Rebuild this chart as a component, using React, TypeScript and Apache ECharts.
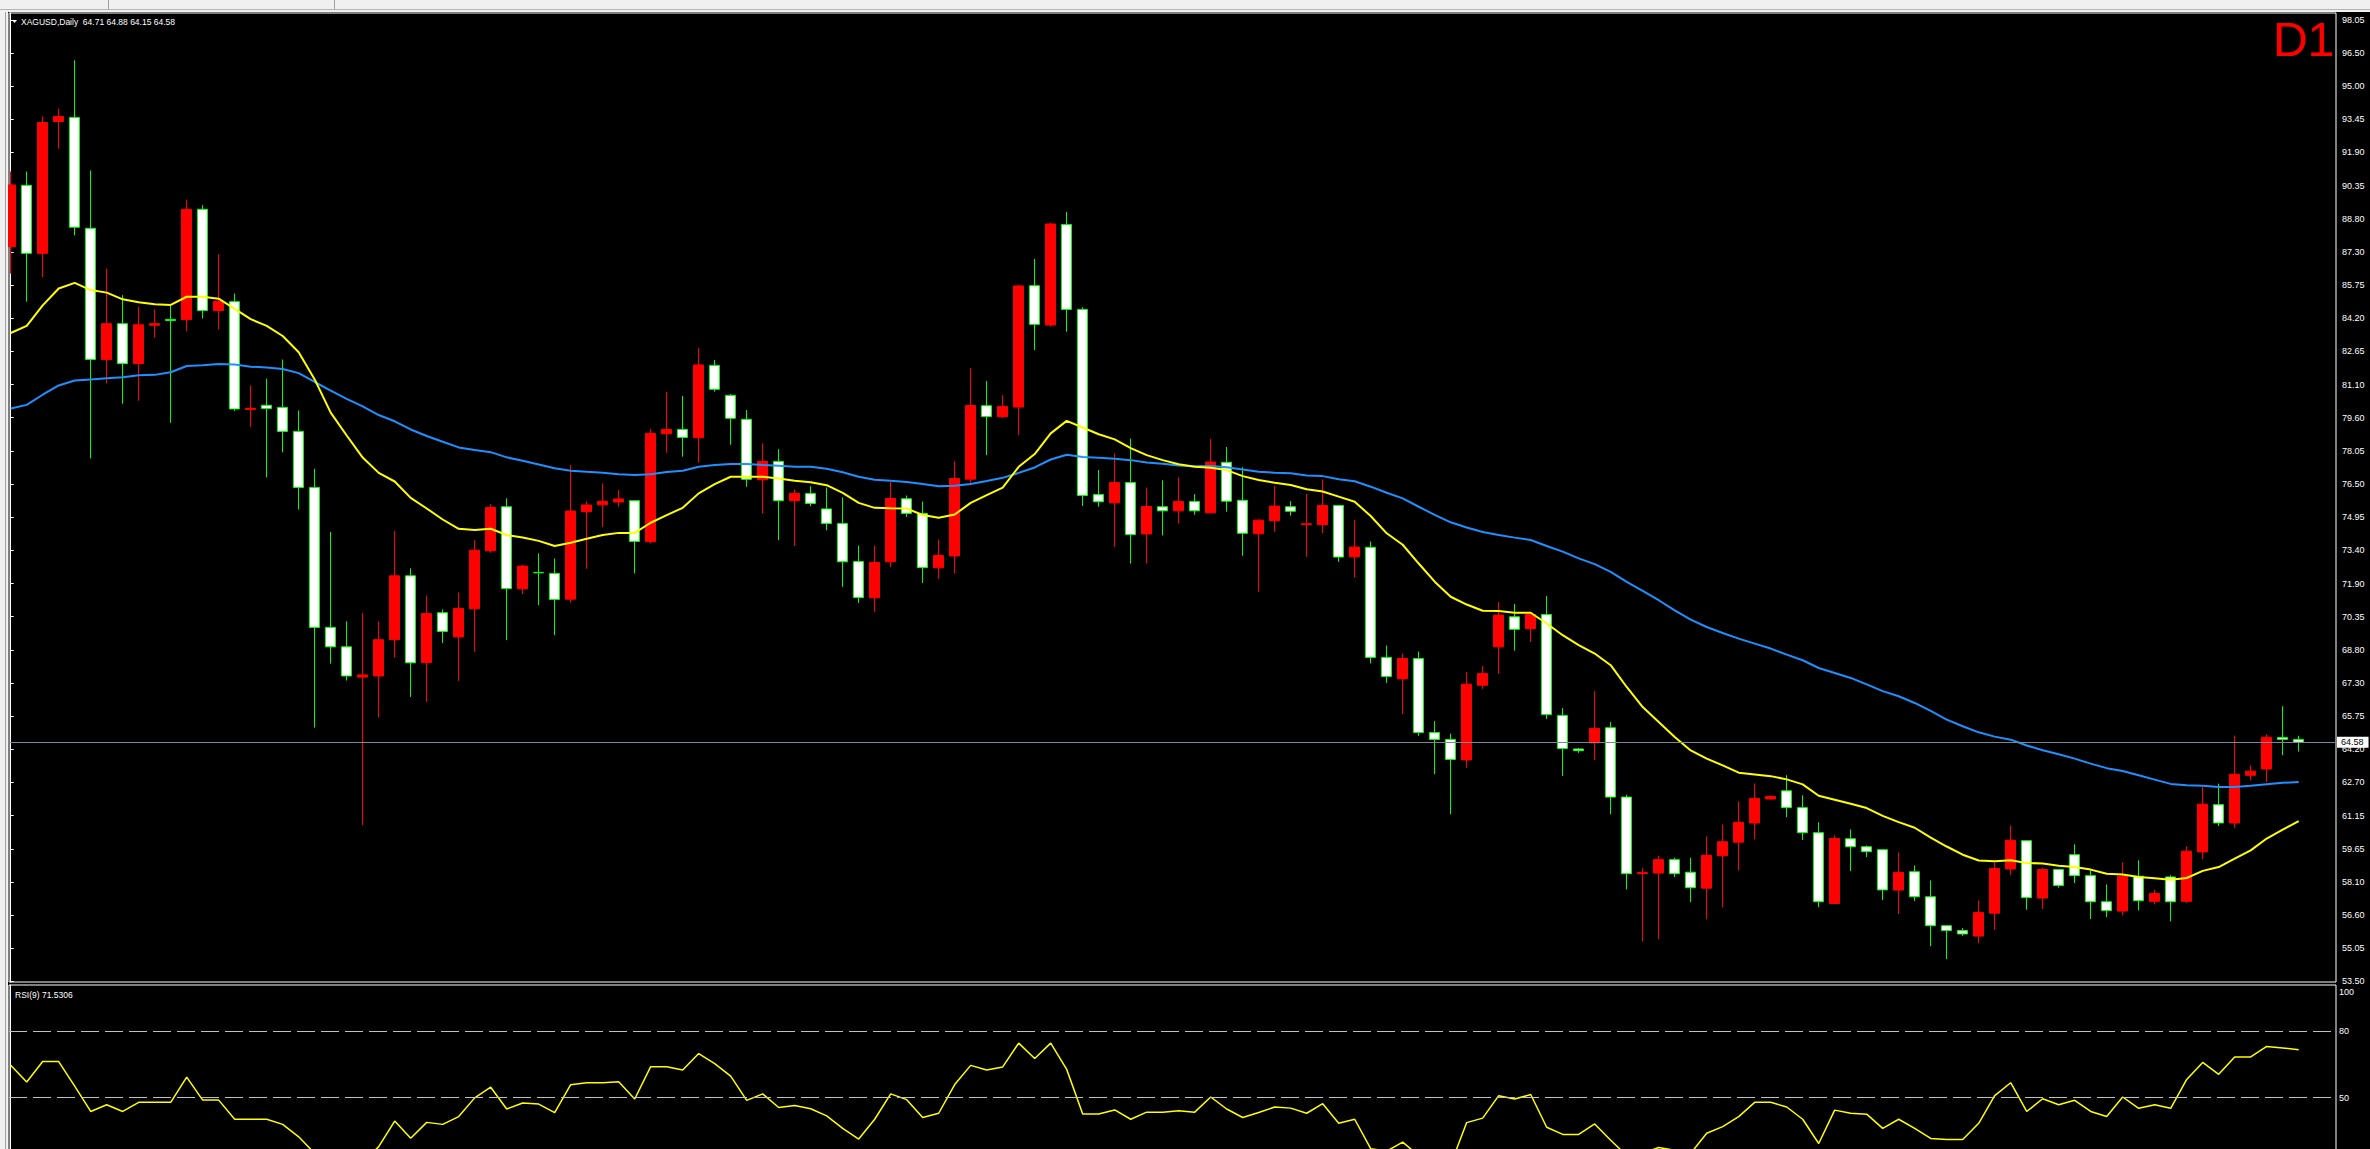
import React, { useEffect, useRef } from "react";
import * as echarts from "echarts";

const symbolName = "XAGUSD,Daily";
const timeframe = "D1";
const rsiLabel = "RSI(9) 71.5306";
const lastPrice = 64.58;

const opens = [
  87.54, 90.38, 87.23, 93.34, 93.52, 88.39, 82.31, 83.97, 82.12, 83.9,
  84.17, 84.16, 89.27, 84.58, 84.99, 80.0, 80.19, 80.09, 78.98, 76.38,
  69.9, 69.0, 67.6, 67.65, 69.33, 72.29, 68.27, 70.58, 69.46, 70.76,
  73.45, 75.49, 71.69, 72.45, 72.4, 71.21, 75.26, 75.58, 75.71, 75.77,
  73.87, 78.87, 79.07, 78.69, 82.04, 80.65, 79.54, 76.74, 77.59, 75.77,
  76.1, 75.39, 74.71, 72.95, 71.27, 72.94, 75.86, 75.18, 72.66, 73.21,
  76.77, 80.17, 79.66, 80.11, 85.73, 83.91, 88.57, 84.63, 76.06, 75.67,
  76.61, 74.23, 75.49, 75.3, 75.73, 75.21, 77.55, 75.79, 74.24, 74.84,
  75.49, 74.66, 74.66, 75.55, 73.17, 73.61, 68.51, 67.52, 68.46, 65.03,
  64.71, 63.76, 67.22, 69.0, 70.39, 69.84, 70.5, 65.82, 64.27, 64.55,
  65.25, 62.04, 58.49, 58.52, 59.14, 58.56, 57.82, 59.32, 59.95, 60.84,
  61.95, 62.33, 61.55, 60.39, 57.11, 60.11, 59.74, 59.6, 57.73, 58.58,
  57.42, 56.08, 55.86, 55.6, 56.66, 58.71, 60.02, 57.36, 58.68, 59.37,
  58.4, 57.19, 56.76, 58.37, 57.21, 58.34, 57.21, 59.5, 61.69, 60.84,
  63.05, 63.34, 64.8, 64.71,
];
const highs = [
  91.02, 91.02, 93.57, 93.93, 96.17, 91.07, 86.52, 85.29, 84.75, 84.63,
  84.82, 89.72, 89.46, 87.19, 85.37, 81.11, 81.42, 82.31, 79.95, 77.25,
  74.32, 70.18, 70.56, 70.18, 74.37, 72.64, 71.38, 70.73, 71.52, 73.94,
  75.61, 75.88, 72.79, 73.33, 73.09, 77.42, 75.75, 76.57, 76.26, 75.8,
  79.09, 80.81, 80.62, 82.85, 82.29, 80.71, 79.97, 78.43, 78.16, 76.29,
  76.44, 76.38, 75.92, 73.69, 73.69, 76.64, 76.01, 75.73, 73.97, 77.6,
  81.91, 81.31, 80.66, 85.76, 86.97, 88.65, 89.15, 84.73, 77.19, 77.96,
  78.65, 76.38, 76.72, 76.85, 76.07, 78.63, 78.26, 77.32, 74.9, 76.45,
  75.75, 76.08, 76.76, 75.58, 74.87, 73.88, 69.06, 68.69, 68.78, 65.56,
  64.98, 67.83, 68.11, 71.07, 70.98, 70.62, 71.35, 66.16, 64.3, 66.95,
  65.52, 62.15, 58.76, 59.32, 59.23, 59.23, 60.22, 60.77, 61.84, 62.67,
  62.12, 63.05, 62.12, 60.87, 60.26, 60.54, 59.8, 59.62, 59.48, 58.87,
  58.18, 56.1, 55.97, 57.25, 59.01, 60.72, 60.04, 58.77, 58.7, 59.85,
  58.65, 57.99, 59.02, 59.11, 57.75, 58.42, 59.76, 62.54, 62.66, 64.89,
  63.5, 64.95, 66.25, 64.88,
];
const lows = [
  86.29, 84.99, 86.12, 92.08, 88.06, 77.73, 81.2, 80.26, 80.4, 83.33,
  79.38, 83.62, 84.21, 83.71, 79.93, 79.19, 76.85, 78.01, 75.36, 65.26,
  68.22, 67.44, 60.74, 65.73, 68.5, 66.68, 66.45, 69.18, 67.42, 68.77,
  73.36, 69.31, 71.44, 70.93, 69.54, 71.04, 72.62, 74.56, 75.49, 72.4,
  73.79, 77.99, 77.81, 77.53, 80.82, 78.36, 76.42, 75.17, 73.94, 73.67,
  75.52, 74.4, 71.78, 71.03, 70.62, 72.7, 75.02, 71.96, 72.15, 72.39,
  76.49, 77.88, 79.6, 78.81, 82.75, 83.83, 83.6, 75.53, 75.49, 73.63,
  72.86, 72.86, 74.16, 74.71, 75.12, 75.18, 75.26, 73.22, 71.55, 74.33,
  75.08, 73.17, 74.26, 72.94, 72.2, 68.23, 67.33, 65.89, 64.88, 63.1,
  61.24, 63.39, 67.05, 67.75, 68.82, 69.23, 65.66, 63.02, 64.09, 63.75,
  61.24, 57.76, 55.35, 55.46, 58.33, 57.17, 56.38, 56.93, 58.64, 60.08,
  61.93, 61.11, 60.05, 56.94, 57.08, 58.61, 59.26, 57.27, 56.62, 57.22,
  55.13, 54.53, 55.61, 55.27, 55.89, 58.43, 56.82, 56.85, 57.84, 58.06,
  56.39, 56.48, 56.56, 56.79, 57.07, 56.28, 57.13, 59.16, 60.7, 60.61,
  62.82, 62.73, 63.98, 64.15,
];
const closes = [
  90.4, 87.23, 93.29, 93.57, 88.44, 82.31, 83.97, 82.12, 83.92, 83.97,
  84.12, 89.27, 84.58, 85.01, 80.02, 80.05, 80.04, 78.98, 76.38, 69.9,
  69.0, 67.65, 67.7, 69.33, 72.29, 68.26, 70.54, 69.71, 70.78, 73.48,
  75.46, 71.7, 72.74, 72.43, 71.19, 75.29, 75.57, 75.74, 75.85, 73.88,
  78.89, 79.07, 78.7, 82.06, 80.93, 79.59, 76.76, 77.59, 75.77, 76.11,
  75.64, 74.71, 72.94, 71.28, 72.91, 75.87, 75.18, 72.67, 73.23, 76.8,
  80.18, 79.67, 80.14, 85.72, 83.94, 88.59, 84.63, 76.01, 75.72, 76.61,
  74.2, 75.5, 75.3, 75.73, 75.3, 77.56, 75.75, 74.26, 74.87, 75.52,
  75.28, 74.7, 75.55, 73.16, 73.62, 68.51, 67.63, 68.46, 65.03, 64.71,
  63.78, 67.27, 67.76, 70.47, 69.81, 70.5, 65.86, 64.29, 64.19, 65.22,
  62.04, 58.49, 58.54, 59.14, 58.49, 57.84, 59.34, 59.97, 60.87, 61.98,
  62.07, 61.55, 60.39, 57.19, 60.12, 59.74, 59.51, 57.74, 58.55, 57.42,
  56.08, 55.86, 55.7, 56.69, 58.73, 60.04, 57.38, 58.68, 57.94, 58.4,
  57.19, 56.78, 58.37, 57.24, 57.57, 57.19, 59.53, 61.71, 60.84, 63.1,
  63.24, 64.81, 64.71, 64.58,
];
const maFast = [
  83.54, 83.87, 84.82, 85.6, 85.86, 85.53, 85.41, 85.1, 84.96, 84.87,
  84.84, 85.22, 85.22, 85.13, 84.66, 84.18, 83.87, 83.4, 82.65, 81.39,
  79.85, 78.79, 77.77, 77.06, 76.66, 75.9, 75.41, 74.9, 74.47, 74.41,
  74.47, 74.18, 74.07, 73.91, 73.67, 73.82, 74.01, 74.18, 74.28, 74.28,
  74.75, 75.1, 75.44, 76.11, 76.54, 76.88, 76.88, 76.88, 76.8, 76.69,
  76.63, 76.49, 76.13, 75.67, 75.44, 75.42, 75.41, 75.11, 74.98, 75.13,
  75.67, 76.03, 76.38, 77.34, 77.93, 78.89, 79.47, 79.16, 78.85, 78.61,
  78.21, 77.88, 77.65, 77.46, 77.34, 77.3, 77.19, 76.91, 76.73, 76.6,
  76.5, 76.3, 76.2, 75.96, 75.72, 75.06, 74.26, 73.73, 72.86, 72.02,
  71.32, 70.96, 70.67, 70.66, 70.58, 70.58, 70.08, 69.54, 69.08, 68.69,
  68.15, 67.14, 66.21, 65.52, 64.82, 64.2, 63.82, 63.51, 63.17, 63.09,
  63.01, 62.86, 62.63, 62.1, 61.92, 61.73, 61.53, 61.17, 60.88, 60.62,
  60.16, 59.75, 59.37, 59.1, 59.07, 59.11, 58.99, 58.96, 58.86, 58.8,
  58.68, 58.49, 58.45, 58.34, 58.28, 58.21, 58.29, 58.62, 58.8, 59.19,
  59.57, 60.12, 60.53, 60.93,
];
const maSlow = [
  80.04, 80.21, 80.68, 81.11, 81.34, 81.39, 81.44, 81.49, 81.58, 81.6,
  81.72, 82.01, 82.05, 82.1, 82.08, 81.98, 81.94, 81.87, 81.68, 81.27,
  80.87, 80.49, 80.14, 79.74, 79.45, 79.07, 78.77, 78.5, 78.24, 78.12,
  78.02, 77.78, 77.62, 77.45, 77.27, 77.16, 77.11, 77.07, 77.0, 76.96,
  77.0, 77.1, 77.16, 77.34, 77.42, 77.47, 77.47, 77.42, 77.39, 77.34,
  77.34, 77.25, 77.09, 76.88, 76.74, 76.69, 76.64, 76.54, 76.44, 76.46,
  76.54, 76.68, 76.83, 77.06, 77.31, 77.68, 77.9, 77.8, 77.76, 77.71,
  77.65, 77.54, 77.48, 77.4, 77.37, 77.38, 77.32, 77.22, 77.11, 77.07,
  77.04, 76.94, 76.91, 76.76, 76.67, 76.42, 76.14, 75.88, 75.49, 75.11,
  74.77, 74.53, 74.32, 74.18, 74.06, 73.95, 73.67, 73.41, 73.1, 72.83,
  72.47, 72.01, 71.59, 71.16, 70.69, 70.26, 69.92, 69.64, 69.38, 69.15,
  68.92, 68.64, 68.38, 68.02, 67.79, 67.56, 67.26, 66.95, 66.71, 66.4,
  66.03, 65.63, 65.32, 65.04, 64.84, 64.7, 64.43, 64.21, 64.02, 63.82,
  63.59, 63.38, 63.25, 63.05, 62.85, 62.65, 62.59, 62.57, 62.51, 62.51,
  62.56, 62.63, 62.7, 62.74,
];
const rsi = [
  64.6, 57.0, 66.2, 66.2, 55.2, 43.8, 46.8, 43.8, 47.9, 47.9,
  47.9, 59.2, 48.9, 48.9, 40.3, 40.3, 40.3, 38.0, 32.4, 25.0,
  22.0, 19.0, 21.0, 28.0, 39.5, 31.8, 38.9, 38.0, 41.5, 49.9,
  54.7, 44.9, 47.6, 47.1, 43.3, 55.8, 56.7, 56.7, 57.1, 49.4,
  63.9, 63.9, 62.4, 69.8, 65.3, 59.7, 48.8, 51.7, 45.6, 46.5,
  45.0, 41.8, 36.2, 31.4, 40.3, 51.7, 49.1, 41.1, 43.0, 55.9,
  64.5, 62.4, 63.8, 74.5, 67.6, 74.5, 62.7, 42.7, 42.7, 44.5,
  40.3, 43.5, 43.5, 44.1, 43.5, 50.3, 44.9, 41.1, 43.3, 45.8,
  45.3, 43.0, 47.3, 38.5, 40.3, 27.1, 26.0, 30.0, 24.0, 21.0,
  20.0, 38.8, 40.8, 50.9, 49.4, 51.4, 36.7, 33.5, 33.5, 38.2,
  30.9, 24.0, 25.0, 27.6, 26.4, 25.0, 34.0, 37.0, 41.5, 47.9,
  47.9, 45.8, 40.3, 29.4, 44.4, 43.0, 42.6, 36.2, 40.3, 36.2,
  31.7, 31.2, 31.2, 38.5, 50.9, 56.7, 43.8, 49.5, 46.8, 48.8,
  43.8, 41.5, 50.3, 45.2, 46.8, 45.2, 58.2, 65.8, 60.5, 68.3,
  68.3, 73.0, 72.3, 71.5,
];
const priceTickLabels = [
  "53.50", "55.05", "56.60", "58.10", "59.65", "61.15", "62.70", "64.20",
  "65.75", "67.30", "68.80", "70.35", "71.90", "73.40", "74.95", "76.50",
  "78.05", "79.60", "81.10", "82.65", "84.20", "85.75", "87.30", "88.80",
  "90.35", "91.90", "93.45", "95.00", "96.50", "98.05",
];
const rsiTickValues = [50, 80, 100];
const rsiLevels = [80, 50];

const W = 2370;
const H = 1149;
const FONT = "'Liberation Sans', Arial, sans-serif";

export default function App() {
  const ref = useRef<HTMLDivElement>(null);

  useEffect(() => {
    document.body.style.margin = "0";
    document.body.style.background = "#000";
    const chart = echarts.init(ref.current!, null, { renderer: "svg" });

    // layout geometry (pixels)
    const plotLeft = 9;
    const plotRight = 2336;
    const mainTop = 13;
    const mainBottom = 982;
    const rsiTop = 985;
    const barStep = 16;
    const firstBarX = 10.7;
    const topLabelY = 19.8;
    const pxPerPrice = 21.585;
    const rsiPxPerUnit = 2.2;
    const rsi100Y = 986.3;

    const xMin = (plotLeft - firstBarX) / barStep;
    const xMax = (plotRight - firstBarX) / barStep;

    const lo = Number(priceTickLabels[0]);
    const hi = Number(priceTickLabels[priceTickLabels.length - 1]);
    const step = (hi - lo) / (priceTickLabels.length - 1);
    const tickValues = priceTickLabels.map((_, k) => lo + k * step);
    const yMax = hi + (topLabelY - mainTop) / pxPerPrice;
    const yMin = hi - (mainBottom - topLabelY) / pxPerPrice;

    const rsiMax = 100 + (rsi100Y - rsiTop) / rsiPxPerUnit;
    const rsiMin = rsiMax - (H - rsiTop) / rsiPxPerUnit;

    const candleData = opens.map((o, i) => [i, o, closes[i], lows[i], highs[i]]);
    const fastData = maFast.map((v, i) => [i, v]);
    const slowData = maSlow.map((v, i) => [i, v]);
    const rsiData = rsi.map((v, i) => [i, v]);

    const n = closes.length - 1;
    const header = `${symbolName}  ${opens[n].toFixed(2)} ${highs[n].toFixed(2)} ${lows[n].toFixed(2)} ${closes[n].toFixed(2)}`;

    const option: any = {
      animation: false,
      backgroundColor: "#000000",
      textStyle: { fontFamily: FONT },
      grid: [
        {
          left: plotLeft,
          top: mainTop,
          width: plotRight - plotLeft,
          height: mainBottom - mainTop,
          show: true,
          borderColor: "#ffffff",
          borderWidth: 1,
          backgroundColor: "transparent",
          containLabel: false,
          outerBoundsMode: "none",
        },
        {
          left: plotLeft,
          top: rsiTop,
          width: plotRight - plotLeft,
          height: H - rsiTop + 2,
          show: true,
          borderColor: "#ffffff",
          borderWidth: 1,
          backgroundColor: "transparent",
          containLabel: false,
          outerBoundsMode: "none",
        },
      ],
      xAxis: [
        { type: "value", gridIndex: 0, min: xMin, max: xMax, show: false },
        { type: "value", gridIndex: 1, min: xMin, max: xMax, show: false },
      ],
      yAxis: [
        {
          type: "value",
          gridIndex: 0,
          position: "right",
          min: yMin,
          max: yMax,
          splitLine: { show: false },
          axisLine: { show: true, lineStyle: { color: "#ffffff", width: 1 } },
          axisTick: {
            show: true,
            inside: false,
            length: 3,
            customValues: tickValues,
            lineStyle: { color: "#ffffff" },
          },
          axisLabel: {
            show: true,
            customValues: tickValues,
            color: "#ffffff",
            fontSize: 9,
            fontFamily: FONT,
            margin: 6,
            formatter: (v: number) => {
              const k = Math.round((v - lo) / step);
              return priceTickLabels[k] ?? "";
            },
          },
        },
        {
          type: "value",
          gridIndex: 1,
          position: "right",
          min: rsiMin,
          max: rsiMax,
          splitLine: { show: false },
          axisLine: { show: true, lineStyle: { color: "#ffffff", width: 1 } },
          axisTick: { show: false },
          axisLabel: {
            show: true,
            customValues: rsiTickValues,
            color: "#ffffff",
            fontSize: 9,
            fontFamily: FONT,
            margin: 3,
            formatter: (v: number) => (v === 100 ? "{t|100}" : String(v)),
            rich: { t: { padding: [12, 0, 0, 0], fontSize: 9, color: "#ffffff" } },
          },
        },
      ],
      series: [
        {
          type: "candlestick",
          xAxisIndex: 0,
          yAxisIndex: 0,
          data: candleData,
          barWidth: 10,
          clip: true,
          itemStyle: {
            color: "#ff0000",
            borderColor: "#ff0000",
            color0: "#ffffff",
            borderColor0: "#00ff00",
            borderWidth: 1,
          },
          markLine: {
            silent: true,
            symbol: ["none", "none"],
            animation: false,
            data: [{ yAxis: lastPrice }],
            lineStyle: { color: "#778899", width: 1, type: "solid" },
            label: {
              show: true,
              position: "end",
              distance: 1,
              formatter: lastPrice.toFixed(2),
              color: "#000000",
              backgroundColor: "#ffffff",
              fontSize: 9,
              lineHeight: 9,
              fontFamily: FONT,
              padding: [1, 5, 1, 4],
            },
            emphasis: { disabled: true },
          },
        },
        {
          type: "line",
          xAxisIndex: 0,
          yAxisIndex: 0,
          data: slowData,
          showSymbol: false,
          symbol: "none",
          clip: true,
          lineStyle: { color: "#1e90ff", width: 2 },
          z: 3,
        },
        {
          type: "line",
          xAxisIndex: 0,
          yAxisIndex: 0,
          data: fastData,
          showSymbol: false,
          symbol: "none",
          clip: true,
          lineStyle: { color: "#ffff00", width: 2 },
          z: 3,
        },
        {
          type: "line",
          xAxisIndex: 1,
          yAxisIndex: 1,
          data: rsiData,
          showSymbol: false,
          symbol: "none",
          clip: true,
          lineStyle: { color: "#ffff00", width: 1.5 },
          markLine: {
            silent: true,
            symbol: ["none", "none"],
            animation: false,
            data: rsiLevels.map((v) => ({ yAxis: v })),
            lineStyle: { color: "#c0c0c0", width: 1, type: [18, 6] },
            label: { show: false },
            emphasis: { disabled: true },
          },
        },
      ],
      graphic: [
        {
          type: "rect",
          shape: { x: 0, y: 0, width: W, height: 12 },
          style: { fill: "#f0f0f0" },
          z: 50,
          silent: true,
        },
        {
          type: "line",
          shape: { x1: 0, y1: 9.5, x2: W, y2: 9.5 },
          style: { stroke: "#b4b4b4", lineWidth: 1 },
          z: 51,
          silent: true,
        },
        {
          type: "line",
          shape: { x1: 108.5, y1: 0, x2: 108.5, y2: 9 },
          style: { stroke: "#a0a0a0", lineWidth: 1 },
          z: 51,
          silent: true,
        },
        {
          type: "line",
          shape: { x1: 334.5, y1: 0, x2: 334.5, y2: 9 },
          style: { stroke: "#a0a0a0", lineWidth: 1 },
          z: 51,
          silent: true,
        },
        {
          type: "rect",
          shape: { x: 0, y: 0, width: 8, height: H },
          style: { fill: "#f0f0f0" },
          z: 50,
          silent: true,
        },
        {
          type: "line",
          shape: { x1: 5.5, y1: 12, x2: 5.5, y2: H },
          style: { stroke: "#a0a0a0", lineWidth: 1 },
          z: 51,
          silent: true,
        },
        {
          type: "polygon",
          shape: { points: [[12, 20], [17, 20], [14.5, 23]] },
          style: { fill: "#ffffff" },
          z: 60,
          silent: true,
        },
        {
          type: "text",
          x: 21,
          y: 22,
          style: {
            text: header,
            fill: "#ffffff",
            font: `8.5px ${FONT}`,
            textAlign: "left",
            textVerticalAlign: "middle",
          },
          z: 60,
          silent: true,
        },
        {
          type: "text",
          x: 2334,
          y: 39,
          style: {
            text: timeframe,
            fill: "#ff0000",
            font: `48px ${FONT}`,
            textAlign: "right",
            textVerticalAlign: "middle",
          },
          z: 60,
          silent: true,
        },
        {
          type: "text",
          x: 15,
          y: 995,
          style: {
            text: rsiLabel,
            fill: "#ffffff",
            font: `8.5px ${FONT}`,
            textAlign: "left",
            textVerticalAlign: "middle",
          },
          z: 60,
          silent: true,
        },
      ],
    };

    chart.setOption(option);
    return () => chart.dispose();
  }, []);

  return (
    <div
      ref={ref}
      style={{ position: "fixed", left: 0, top: 0, width: W, height: H, background: "#000" }}
    />
  );
}
